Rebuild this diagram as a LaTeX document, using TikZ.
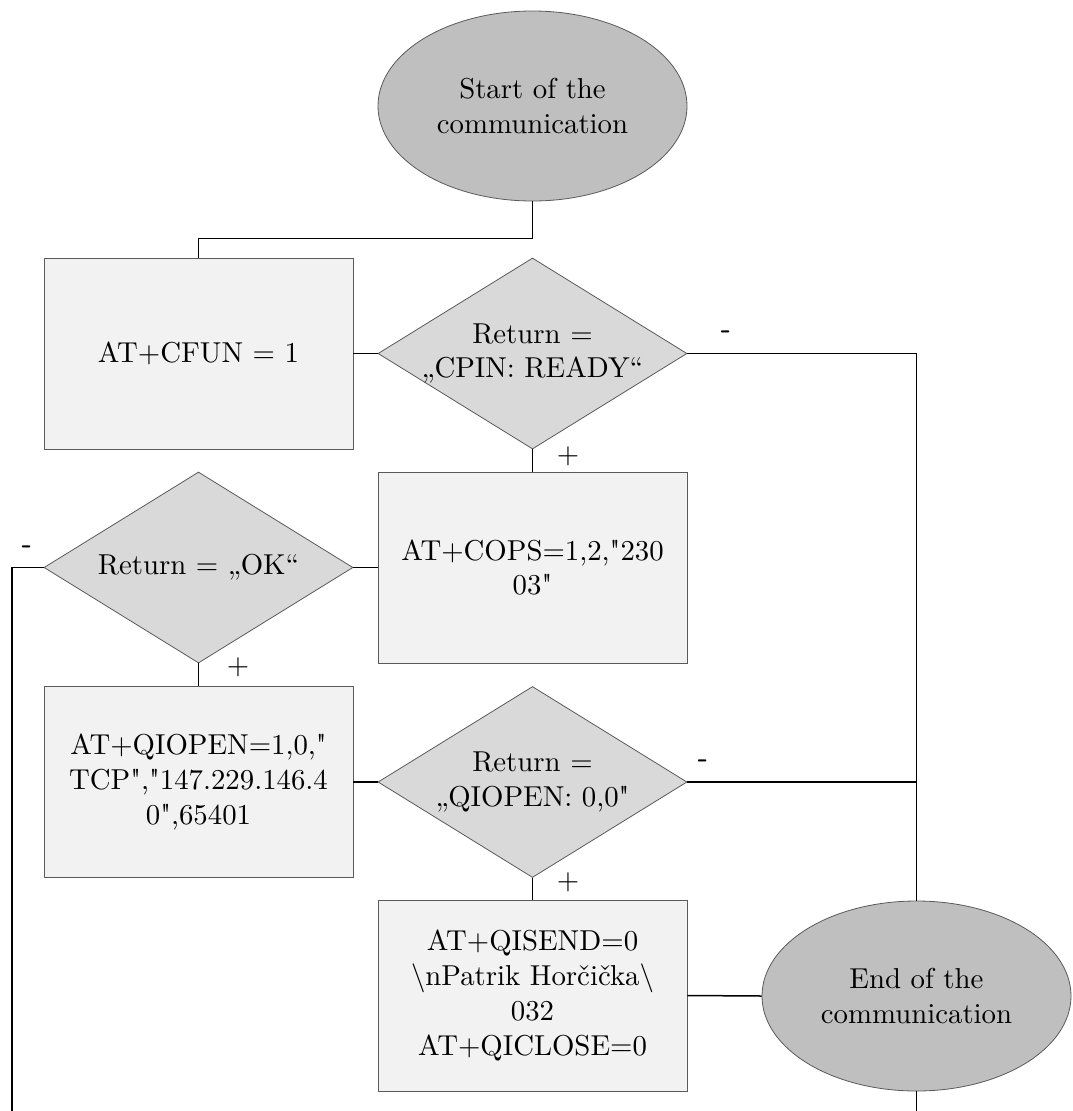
\documentclass[tikz,border=0pt]{standalone}
\usetikzlibrary{shapes.geometric}
\definecolor{termfill}{HTML}{BFBFBF}
\definecolor{decfill}{HTML}{D9D9D9}
\definecolor{procfill}{HTML}{F2F2F2}
\definecolor{edge}{HTML}{5A5A5A}
% same Latin Modern face, loaded without the TeX quote mapping,
% so that a typed " stays a straight quote
\font\plainlm="[lmroman10-regular]" at 10pt
\newcommand{\sq}{{\plainlm"}}
\begin{document}
\begin{tikzpicture}[x=1pt,y=-1pt,
  shapebase/.style={draw=edge, line width=0.8pt, inner sep=0pt},
  terminal/.style={shapebase, ellipse, fill=termfill, minimum width=309pt, minimum height=190pt},
  process/.style={shapebase, rectangle, fill=procfill, minimum width=309pt, minimum height=191pt},
  decision/.style={shapebase, diamond, fill=decfill, minimum width=309pt, minimum height=191pt},
  inside/.style={font=\fontsize{10}{12.1}\selectfont, align=center, inner sep=0pt, scale=2.88, transform shape},
  link/.style={line width=1.5pt, black},
  sign/.style={font=\fontsize{10}{12}\selectfont, inner sep=0pt, scale=2.88, transform shape},
  neg/.style={font=\fontsize{10}{12}\sffamily\bfseries, inner sep=0pt, scale=2.88, transform shape}
]
\useasboundingbox (0,0) rectangle (1072,1111);

% terminals
\node[terminal, label={[inside]center:Start of the\\communication}] (start) at (532.5,106) {};
\node[terminal, label={[inside]center:End of the\\communication}] (endn) at (916.5,996) {};

% process boxes
\node[process, label={[inside]center:AT+CFUN = 1}] (cfun) at (198.5,353.5) {};
\node[process, label={[inside]center:AT+COPS=1,2,\sq230\\03\sq}] (cops) at (532.5,567.5) {};
\node[process, label={[inside]center:AT+QIOPEN=1,0,\sq\\TCP\sq,\sq147.229.146.4\\0\sq,65401}] (qiopen) at (198.5,782) {};
\node[process, label={[inside]center:AT+QISEND=0\\\textbackslash nPatrik Horčička\textbackslash\\032\\AT+QICLOSE=0}] (qisend) at (532.5,995.5) {};

% decisions
\node[decision, label={[inside]center:Return =\\„CPIN: READY“}] (dcpin) at (532.5,353.5) {};
\node[decision, label={[inside]center:Return = „OK“}] (dok) at (198.5,567.5) {};
\node[decision, label={[inside]center:Return =\\„QIOPEN: 0,0\sq}] (dqi) at (532.5,782) {};

% loose ends
\coordinate (failout) at (12,1111);
\coordinate (endout) at (916.5,1111);

% connectors
\draw[link] (start.south) -- ++(0,37) -| (cfun.north);
\draw[link] (cfun.east) -- (dcpin.west);
\draw[link] (dcpin.east) -| (endn.north);
\draw[link] (dcpin.south) -- (cops.north);
\draw[link] (cops.west) -- (dok.east);
\draw[link] (dok.west) -| (failout);
\draw[link] (dok.south) -- (qiopen.north);
\draw[link] (qiopen.east) -- (dqi.west);
\draw[link] (dqi.east) -- (dqi.east -| endn.north);
\draw[link] (dqi.south) -- (qisend.north);
\draw[link] (qisend.east) -- (endn.west);
\draw[link] (endn.south) -- (endout);

% branch signs
\node[neg] (n1) at (726,335) {-};
\node[neg] (n2) at (27,550) {-};
\node[neg] (n3) at (703,764) {-};
\node[sign] (p1) at (568,456) {+};
\node[sign] (p2) at (238,667) {+};
\node[sign] (p3) at (568,882) {+};
\end{tikzpicture}
\end{document}
